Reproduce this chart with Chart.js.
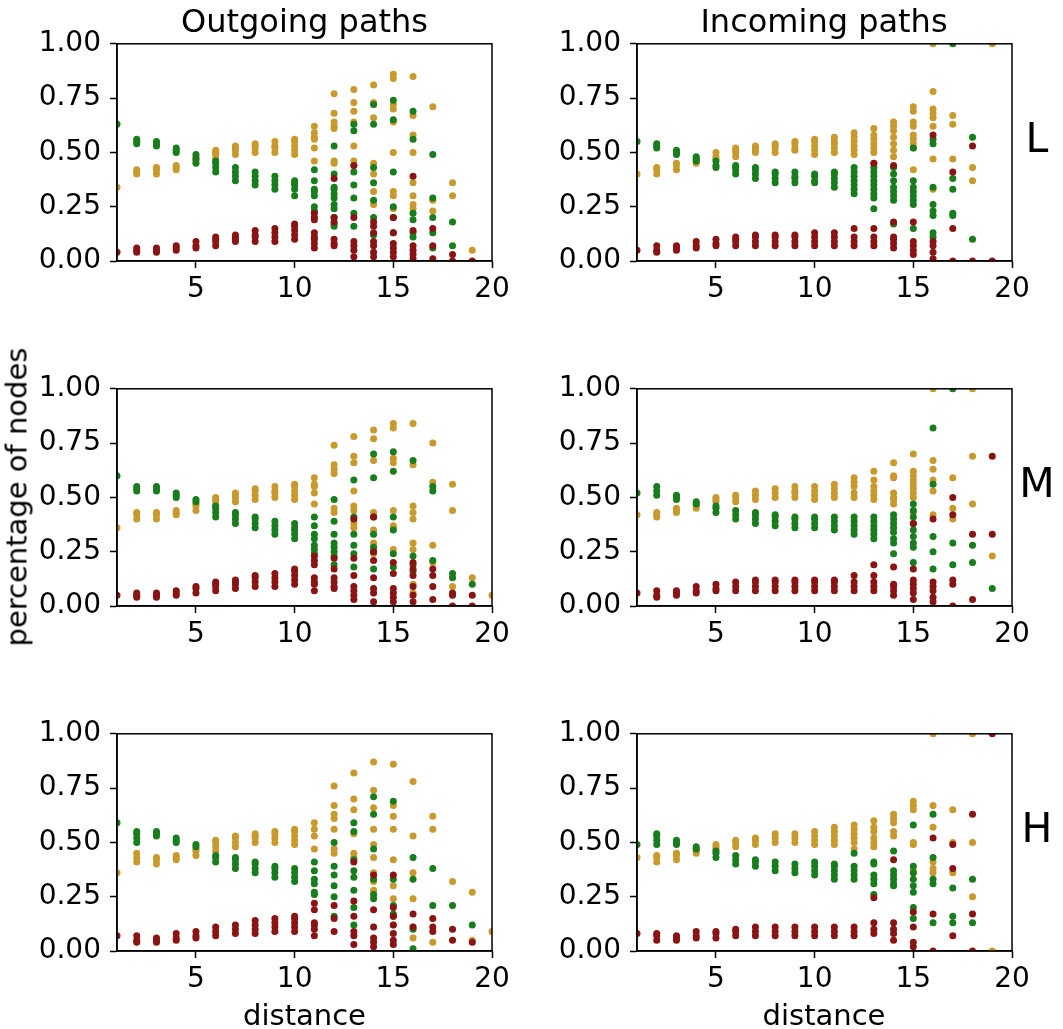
<!DOCTYPE html>
<html><head><meta charset="utf-8">
<script src="https://cdn.jsdelivr.net/npm/chart.js@4.4.0/dist/chart.umd.min.js"></script>
<style>
html,body{margin:0;padding:0;background:#fff;}
#wrap{position:relative;width:1063px;height:1029px;overflow:hidden;font-family:"DejaVu Sans",sans-serif;color:#000;}
.lbl{position:absolute;transform:translate(-50%,-50%);line-height:1;white-space:nowrap;z-index:5;}
.cv{position:absolute;z-index:1;}
</style></head><body><div id="wrap">
<div class="lbl" style="left:304.5px;top:21px;font-size:32px">Outgoing paths</div>
<div class="lbl" style="left:824px;top:21px;font-size:32px">Incoming paths</div>
<div class="lbl" style="left:1037px;top:138px;font-size:41px">L</div>
<div class="lbl" style="left:1037px;top:483px;font-size:41px">M</div>
<div class="lbl" style="left:1037px;top:828px;font-size:41px">H</div>
<div class="lbl" style="left:17px;top:497px;font-size:29px;transform:translate(-50%,-50%) rotate(-90deg)">percentage of nodes</div>
<div class="lbl" style="left:304.5px;top:1015px;font-size:29px">distance</div>
<div class="lbl" style="left:824px;top:1015px;font-size:29px">distance</div>
</div>
<script>
// ---- tick labels ----
const xTickVals = [5, 10, 15, 20];
const yTickVals = [0, 0.25, 0.5, 0.75, 1.0];

// ---- data: index i -> distance i+1, each entry = list of percentages ----
// Outgoing, L
const outL_gold = [[0.34],[0.40,0.41,0.42],[0.40,0.42,0.43],[0.42,0.43,0.44],[0.46,0.47,0.48],[0.47,0.49,0.50,0.51],[0.49,0.51,0.52,0.53],[0.50,0.52,0.53,0.54],[0.50,0.52,0.53,0.55],[0.49,0.51,0.53,0.55,0.56],[0.62,0.59,0.57,0.56,0.52,0.46],[0.77,0.68,0.64,0.62,0.61,0.46,0.45],[0.79,0.73,0.69,0.64,0.53,0.46,0.44],[0.81,0.73,0.66,0.45,0.40,0.32,0.26],[0.86,0.84,0.72,0.70,0.64,0.50,0.32,0.30,0.24],[0.85,0.67,0.58,0.50,0.36,0.30,0.26,0.24],[0.71,0.28,0.23],[0.36,0.30],[0.05]];
const outL_green = [[0.63],[0.54,0.55,0.56],[0.53,0.54,0.55],[0.50,0.51,0.52],[0.45,0.47,0.49],[0.41,0.43,0.45,0.46],[0.37,0.39,0.41,0.43],[0.35,0.37,0.39,0.41],[0.33,0.35,0.37,0.39],[0.30,0.33,0.35,0.36,0.37],[0.42,0.37,0.33,0.32,0.30,0.25,0.23],[0.53,0.40,0.34,0.33,0.31,0.29,0.26,0.24,0.20,0.17,0.16],[0.63,0.60,0.41,0.35,0.29,0.22,0.16],[0.72,0.63,0.43,0.36,0.28,0.20,0.12],[0.74,0.65,0.41,0.25,0.20,0.13],[0.69,0.56,0.22,0.19,0.13,0.11],[0.49,0.29,0.20,0.13,0.06],[0.18,0.07],[]];
const outL_red = [[0.04],[0.04,0.05,0.06],[0.04,0.05,0.06],[0.05,0.06,0.07],[0.06,0.07,0.09],[0.07,0.09,0.10,0.11],[0.09,0.10,0.11,0.12],[0.09,0.11,0.12,0.14],[0.09,0.11,0.13,0.15],[0.10,0.12,0.14,0.16,0.17],[0.22,0.20,0.19,0.13,0.11,0.10,0.08,0.06],[0.38,0.20,0.18,0.10,0.08,0.07],[0.44,0.20,0.09,0.07,0.05,0.02],[0.18,0.16,0.13,0.09,0.07,0.04,0.02],[0.20,0.13,0.08,0.06,0.04,0.02],[0.39,0.14,0.07,0.05,0.03,0.01],[0.15,0.07,0.01],[0.03,0.00],[0.00]];
// Incoming, L
const inL_gold = [[0.40],[0.40,0.42,0.43],[0.42,0.44,0.45],[0.45,0.46,0.47],[0.47,0.48,0.50],[0.48,0.50,0.51,0.52],[0.50,0.51,0.52,0.53],[0.50,0.52,0.53,0.54],[0.51,0.52,0.54,0.55],[0.49,0.51,0.53,0.55,0.56],[0.50,0.52,0.54,0.55,0.57],[0.49,0.51,0.53,0.55,0.57,0.59],[0.50,0.52,0.54,0.56,0.58,0.61,0.45],[0.48,0.51,0.54,0.57,0.60,0.62,0.64],[0.71,0.69,0.64,0.62,0.58,0.56,0.54,0.52,0.42],[1.0,0.78,0.70,0.68,0.66,0.62,0.47,0.33],[0.67,0.63,0.47],[0.43,0.37],[1.0]];
const inL_green = [[0.55],[0.52,0.53,0.54],[0.49,0.50,0.51],[0.46,0.47,0.48],[0.43,0.44,0.46],[0.40,0.42,0.43,0.44],[0.38,0.40,0.42,0.43],[0.36,0.38,0.40,0.41],[0.36,0.38,0.39,0.41],[0.36,0.37,0.39,0.40],[0.34,0.36,0.38,0.40,0.41],[0.31,0.33,0.35,0.37,0.39,0.41,0.43],[0.29,0.31,0.33,0.35,0.37,0.39,0.41,0.43,0.24],[0.28,0.30,0.32,0.34,0.37,0.40,0.43,0.17],[0.52,0.37,0.34,0.32,0.30,0.28,0.26,0.15],[0.56,0.54,0.34,0.26,0.23,0.21,0.13,0.11],[1.0,0.38,0.33,0.22,0.21],[0.57,0.10],[]];
const inL_red = [[0.05],[0.04,0.05,0.07],[0.05,0.06,0.07],[0.06,0.07,0.09],[0.07,0.08,0.10],[0.07,0.09,0.10,0.11],[0.07,0.09,0.11,0.12],[0.07,0.09,0.11,0.12],[0.07,0.09,0.11,0.12],[0.07,0.09,0.11,0.13],[0.13,0.07,0.09,0.11],[0.15,0.07,0.09,0.11],[0.45,0.15,0.07,0.09,0.11],[0.44,0.18,0.06,0.08,0.10,0.11],[0.18,0.09,0.07,0.05,0.03],[0.58,0.09,0.07,0.04,0.01],[0.41,0.15,0.00],[0.53,0.00],[0.00]];
// Outgoing, M
const outM_gold = [[0.36],[0.40,0.42,0.43],[0.40,0.42,0.43],[0.42,0.43,0.44],[0.44,0.46,0.47],[0.46,0.48,0.49,0.50],[0.48,0.50,0.51,0.52],[0.49,0.51,0.53,0.54],[0.50,0.52,0.53,0.55],[0.49,0.51,0.53,0.55,0.56],[0.59,0.56,0.55,0.52,0.47],[0.74,0.65,0.63,0.61,0.45,0.43],[0.78,0.69,0.66,0.53,0.46,0.44,0.38,0.36],[0.81,0.77,0.67,0.43,0.35,0.29,0.27,0.24],[0.84,0.82,0.68,0.66,0.44,0.37,0.36,0.26],[0.84,0.65,0.46,0.43,0.40,0.29,0.26,0.10,0.06],[0.75,0.57,0.28,0.20],[0.56,0.44,0.09],[0.13],[0.05]];
const outM_green = [[0.60],[0.53,0.54,0.55],[0.53,0.54,0.55],[0.50,0.51,0.52],[0.48,0.49],[0.41,0.43,0.45,0.46],[0.38,0.40,0.42,0.43],[0.36,0.38,0.40,0.41],[0.33,0.35,0.37,0.39],[0.31,0.33,0.35,0.36,0.38],[0.41,0.37,0.33,0.31,0.28,0.26,0.24],[0.49,0.39,0.33,0.29,0.27,0.25,0.23,0.19],[0.58,0.41,0.33,0.28,0.24,0.18],[0.70,0.59,0.41,0.33,0.27,0.25,0.17],[0.71,0.62,0.41,0.35,0.24,0.18],[0.67,0.23,0.19,0.16],[0.55,0.53,0.21],[0.15,0.13],[0.10],[]];
const outM_red = [[0.05],[0.04,0.05,0.06],[0.04,0.05,0.06],[0.05,0.06,0.07],[0.06,0.08,0.09],[0.07,0.09,0.10,0.11],[0.08,0.10,0.11,0.12],[0.09,0.11,0.13,0.14],[0.09,0.11,0.13,0.15],[0.10,0.12,0.14,0.16,0.17],[0.23,0.21,0.19,0.13,0.11,0.10,0.07],[0.22,0.17,0.13,0.11,0.09,0.08],[0.40,0.22,0.14,0.09,0.07,0.05,0.03],[0.41,0.25,0.21,0.13,0.08,0.06,0.02],[0.20,0.15,0.08,0.06,0.04,0.02],[0.20,0.17,0.14,0.09,0.05,0.02],[0.17,0.14,0.09,0.03],[0.06,0.05,0.00],[0.05,0.00],[]];
// Incoming, M
const inM_gold = [[0.42],[0.41,0.42,0.43],[0.43,0.44,0.45],[0.45,0.46,0.47],[0.48,0.49,0.50],[0.48,0.50,0.51],[0.49,0.51,0.53],[0.50,0.52,0.54],[0.50,0.52,0.53,0.55],[0.49,0.51,0.53,0.55],[0.50,0.52,0.54,0.56],[0.50,0.52,0.55,0.57,0.59],[0.49,0.51,0.53,0.55,0.58,0.62],[0.66,0.60,0.59,0.52,0.50,0.49,0.47],[0.70,0.62,0.60,0.58,0.56,0.54,0.52,0.50,0.43],[1.0,0.67,0.63,0.58,0.53,0.42],[0.59,0.45,0.40],[1.0,0.69,0.47],[0.23]];
const inM_green = [[0.52],[0.51,0.53,0.55],[0.49,0.50,0.51],[0.47,0.48],[0.43,0.45,0.46],[0.40,0.42,0.44],[0.38,0.40,0.42,0.43],[0.37,0.39,0.41,0.42],[0.36,0.38,0.40,0.41],[0.36,0.38,0.40,0.41],[0.35,0.37,0.39,0.41],[0.33,0.35,0.37,0.39,0.41],[0.31,0.33,0.35,0.37,0.39,0.41],[0.42,0.40,0.38,0.36,0.34,0.31,0.29,0.24],[0.47,0.44,0.41,0.38,0.35,0.32,0.29,0.27,0.20],[0.82,0.56,0.32,0.25,0.17],[1.0,0.29,0.19],[0.28,0.20],[0.08]];
const inM_red = [[0.06],[0.04,0.05,0.07],[0.05,0.06,0.07],[0.06,0.07,0.09],[0.07,0.08,0.10],[0.07,0.09,0.11],[0.07,0.09,0.11,0.12],[0.07,0.09,0.11,0.12],[0.07,0.09,0.11,0.12],[0.07,0.09,0.11,0.12],[0.07,0.09,0.11,0.12],[0.14,0.07,0.09,0.11],[0.19,0.14,0.07,0.09,0.11],[0.18,0.05,0.07,0.09,0.10],[0.38,0.17,0.12,0.10,0.08,0.06,0.03],[0.40,0.11,0.09,0.07,0.04,0.02],[0.50,0.42,0.12,0.10,0.00],[0.33,0.03],[0.69,0.33]];
// Outgoing, H
const outH_gold = [[0.36],[0.41,0.43,0.45],[0.40,0.42,0.43],[0.42,0.43,0.44],[0.44,0.46,0.47],[0.46,0.48,0.50,0.51],[0.48,0.50,0.52,0.53],[0.50,0.52,0.53,0.54],[0.50,0.52,0.54,0.55],[0.49,0.51,0.53,0.55,0.56],[0.59,0.56,0.53,0.47],[0.76,0.67,0.63,0.61,0.56,0.47,0.45],[0.82,0.70,0.65,0.54,0.45,0.43],[0.87,0.74,0.66,0.56,0.49,0.43,0.36,0.32,0.28],[0.86,0.67,0.62,0.56,0.42,0.30,0.24,0.12],[0.78,0.53,0.36,0.24,0.11,0.06],[0.62,0.56,0.04],[0.32],[0.27,0.05],[0.09]];
const outH_green = [[0.59],[0.50,0.52,0.54,0.55],[0.53,0.54,0.55],[0.50,0.51,0.52],[0.48,0.49],[0.41,0.43,0.44],[0.38,0.40,0.42,0.43],[0.36,0.38,0.40,0.41],[0.34,0.36,0.38,0.39],[0.32,0.34,0.36,0.38],[0.41,0.37,0.33,0.31,0.27,0.26],[0.50,0.39,0.35,0.30,0.25,0.16],[0.59,0.55,0.42,0.37,0.34,0.28,0.20,0.12],[0.71,0.63,0.47,0.33,0.26,0.24],[0.69,0.33,0.21,0.17,0.16],[0.43,0.33,0.10,0.01],[0.38,0.21],[0.21],[0.12]];
const outH_red = [[0.07],[0.04,0.05,0.07],[0.04,0.05,0.06],[0.05,0.06,0.08],[0.06,0.07,0.09],[0.07,0.09,0.11],[0.08,0.10,0.12],[0.08,0.10,0.12,0.14],[0.09,0.11,0.13,0.15],[0.09,0.11,0.13,0.15,0.16],[0.22,0.19,0.13,0.12,0.10,0.07],[0.21,0.15,0.09],[0.41,0.23,0.16,0.09,0.07,0.03],[0.35,0.19,0.11,0.06,0.04,0.02],[0.35,0.20,0.16,0.12,0.08,0.05,0.03],[0.17,0.11],[0.15,0.11,0.09],[0.10,0.05],[0.04]];
// Incoming, H
const inH_gold = [[0.43],[0.41,0.43,0.44],[0.42,0.44,0.45],[0.45,0.46,0.47],[0.47,0.48,0.49],[0.48,0.50,0.51],[0.49,0.51,0.52],[0.50,0.52,0.54],[0.50,0.52,0.54],[0.49,0.51,0.53,0.55],[0.49,0.51,0.53,0.55,0.57],[0.50,0.52,0.54,0.56,0.58,0.47],[0.48,0.50,0.52,0.55,0.57,0.60],[0.63,0.61,0.59,0.55,0.53],[0.69,0.67,0.65,0.50,0.49,0.37,0.36],[1.0,0.67,0.57,0.41,0.38,0.36],[0.65,0.50,0.36],[1.0,0.50,0.25],[0.0]];
const inH_green = [[0.49],[0.49,0.51,0.53,0.54],[0.49,0.50,0.51],[0.47,0.48],[0.43,0.45,0.46],[0.40,0.42,0.44],[0.39,0.41,0.42],[0.37,0.39,0.41],[0.36,0.38,0.40],[0.35,0.37,0.39,0.41],[0.33,0.35,0.37,0.39,0.40],[0.45,0.39,0.37,0.35,0.33],[0.41,0.40,0.35,0.33,0.31,0.26],[0.46,0.37,0.35,0.33,0.31,0.30],[0.58,0.39,0.36,0.33,0.30,0.27,0.20,0.15],[0.63,0.43,0.33,0.31,0.13],[0.29,0.16,0.13],[0.33,0.13],[]];
const inH_red = [[0.08],[0.05,0.07,0.08],[0.05,0.06,0.07],[0.06,0.07,0.09],[0.06,0.08,0.09],[0.07,0.09,0.10],[0.07,0.09,0.11],[0.07,0.09,0.11],[0.07,0.09,0.11],[0.07,0.09,0.11],[0.07,0.09,0.11],[0.07,0.09,0.11],[0.245,0.13,0.08,0.10],[0.42,0.13,0.10,0.08,0.05],[0.18,0.11,0.04,0.02],[0.52,0.17,0.00],[0.49,0.38,0.07],[0.63,0.17,0.00],[1.0]];

// ---- styles ----
const GOLD = '#c8992c', GREEN = '#187d1c', RED = '#8a1414';
const PLOT_W = 375, PLOT_H = 218;
const YW = 110, PT = 25, PR = 35, XH = 70;
const FONT = 'DejaVu Sans';

const panels = [
  {left:117, top:43,  gold:outL_gold, green:outL_green, red:outL_red},
  {left:637, top:43,  gold:inL_gold,  green:inL_green,  red:inL_red},
  {left:117, top:388, gold:outM_gold, green:outM_green, red:outM_red},
  {left:637, top:388, gold:inM_gold,  green:inM_green,  red:inM_red},
  {left:117, top:733, gold:outH_gold, green:outH_green, red:outH_red},
  {left:637, top:733, gold:inH_gold,  green:inH_green,  red:inH_red}
];

function toPoints(groups){
  const pts = [];
  groups.forEach((ys, i) => ys.forEach(y => pts.push({x: i + 1, y: y})));
  return pts;
}

const framePlugin = {
  id: 'frame',
  afterDraw(chart){
    const a = chart.chartArea, ctx = chart.ctx;
    ctx.save();
    ctx.strokeStyle = '#000';
    ctx.lineWidth = 1.5;
    ctx.strokeRect(a.left, a.top, a.right - a.left, a.bottom - a.top);
    ctx.restore();
  }
};

function ds(data, color){
  return {data: toPoints(data), backgroundColor: color, borderColor: color,
    pointRadius: 3.5, pointBorderWidth: 0, pointHoverRadius: 3.5, clip: 0, showLine: false};
}

const wrap = document.getElementById('wrap');
panels.forEach(p => {
  const cv = document.createElement('canvas');
  const w = YW + PLOT_W + PR, h = PT + PLOT_H + XH;
  cv.width = w; cv.height = h;
  cv.className = 'cv';
  cv.style.left = (p.left - YW) + 'px';
  cv.style.top = (p.top - PT) + 'px';
  cv.style.width = w + 'px'; cv.style.height = h + 'px';
  wrap.appendChild(cv);
  new Chart(cv, {
    type: 'scatter',
    data: {datasets: [ds(p.red, RED), ds(p.green, GREEN), ds(p.gold, GOLD)]},
    plugins: [framePlugin],
    options: {
      responsive: false, animation: false, events: [],
      devicePixelRatio: 1,
      layout: {padding: {left: 0, top: PT, right: PR, bottom: 0}},
      plugins: {legend: {display: false}, tooltip: {enabled: false}},
      scales: {
        x: {
          type: 'linear', min: 1, max: 20,
          afterBuildTicks: s => { s.ticks = xTickVals.map(v => ({value: v})); },
          afterFit: s => { s.height = XH; },
          grid: {display: true, drawOnChartArea: false, drawTicks: true, tickLength: 7, tickWidth: 1.5, color: '#000', tickColor: '#000'},
          border: {display: true, color: '#000', width: 1.5},
          ticks: {color: '#000', font: {family: FONT, size: 28}, padding: 5, maxRotation: 0, autoSkip: false}
        },
        y: {
          type: 'linear', min: 0, max: 1,
          afterBuildTicks: s => { s.ticks = yTickVals.map(v => ({value: v})); },
          afterFit: s => { s.width = YW; },
          grid: {display: true, drawOnChartArea: false, drawTicks: true, tickLength: 7, tickWidth: 1.5, color: '#000', tickColor: '#000'},
          border: {display: true, color: '#000', width: 1.5},
          ticks: {color: '#000', font: {family: FONT, size: 28}, padding: 9, autoSkip: false, callback: v => Number(v).toFixed(2)}
        }
      }
    }
  });
});
</script>
</body></html>
